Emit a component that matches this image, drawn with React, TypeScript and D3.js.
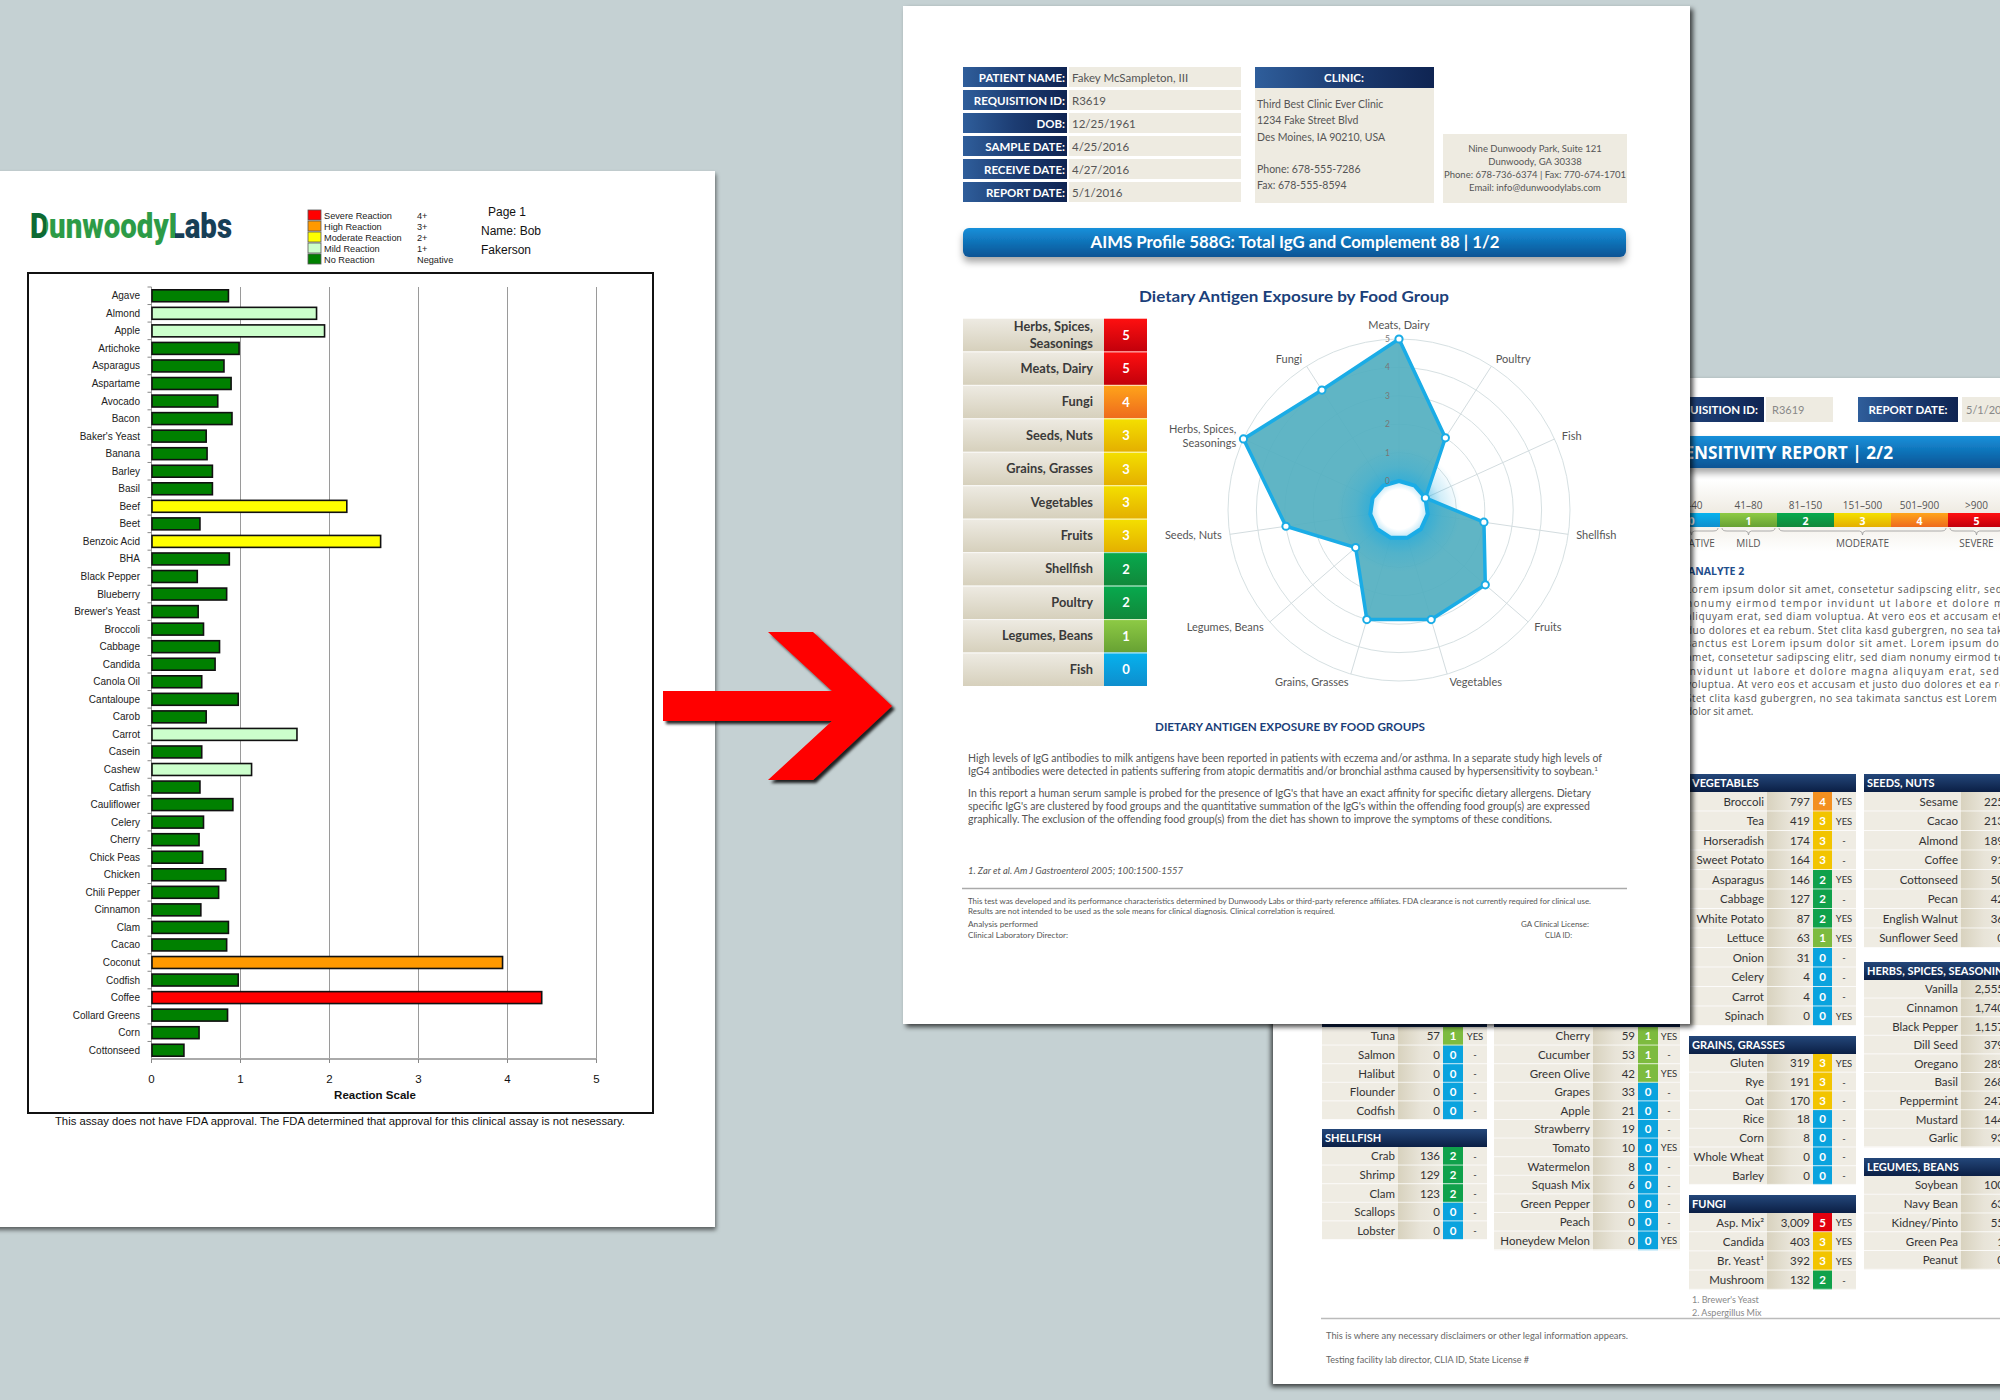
import React from 'react';
import * as d3 from 'd3';

// ---------------- data ----------------
const foods = ['Agave','Almond','Apple','Artichoke','Asparagus','Aspartame','Avocado','Bacon',"Baker's Yeast",'Banana','Barley','Basil','Beef','Beet','Benzoic Acid','BHA','Black Pepper','Blueberry',"Brewer's Yeast",'Broccoli','Cabbage','Candida','Canola Oil','Cantaloupe','Carob','Carrot','Casein','Cashew','Catfish','Cauliflower','Celery','Cherry','Chick Peas','Chicken','Chili Pepper','Cinnamon','Clam','Cacao','Coconut','Codfish','Coffee','Collard Greens','Corn','Cottonseed'];
const reactions = [0.87,1.86,1.95,0.99,0.82,0.90,0.75,0.91,0.62,0.63,0.69,0.69,2.20,0.55,2.58,0.88,0.52,0.85,0.53,0.59,0.77,0.72,0.57,0.98,0.62,1.64,0.57,1.13,0.55,0.92,0.59,0.54,0.58,0.84,0.76,0.56,0.87,0.85,3.95,0.98,4.39,0.86,0.54,0.37];
const reactionLabels = ['Severe Reaction','High Reaction','Moderate Reaction','Mild Reaction','No Reaction'];
const reactionCodes = ['4+','3+','2+','1+','Negative'];
const reactionColors = ['#FF0000','#FF9900','#FFFF00','#CCFFCC','#008000'];
const reactionTicks = [0,1,2,3,4,5];

const groupAxes = ['Meats, Dairy','Poultry','Fish','Shellfish','Fruits','Vegetables','Grains, Grasses','Legumes, Beans','Seeds, Nuts','Herbs, Spices,\nSeasonings','Fungi'];
const groupScores = [5,2,0,2,3,3,3,1,3,5,4];
const rankedGroups = ['Herbs, Spices,\nSeasonings','Meats, Dairy','Fungi','Seeds, Nuts','Grains, Grasses','Vegetables','Fruits','Shellfish','Poultry','Legumes, Beans','Fish'];
const radarTicks = [0,1,2,3,4,5];

const headerLabels = ['PATIENT NAME:','REQUISITION ID:','DOB:','SAMPLE DATE:','RECEIVE DATE:','REPORT DATE:'];
const headerValues = ['Fakey McSampleton, III','R3619','12/25/1961','4/25/2016','4/27/2016','5/1/2016'];
const clinicLines = ['Third Best Clinic Ever Clinic','1234 Fake Street Blvd','Des Moines, IA 90210, USA','','Phone: 678-555-7286','Fax: 678-555-8594'];
const labLines = ['Nine Dunwoody Park, Suite 121','Dunwoody, GA 30338','Phone: 678-736-6374 | Fax: 770-674-1701','Email: info@dunwoodylabs.com'];

const rangeLabels = ['0\u201340','41\u201380','81\u2013150','151\u2013500','501\u2013900','>900'];
const gradeLevels = [0,1,2,3,4,5];
const severityNames = ['NEGATIVE','MILD','MODERATE','SEVERE'];
const severitySpans = [[0,0],[1,1],[2,4],[5,5]];

const loremLines = [
  'Lorem ipsum dolor sit amet, consetetur sadipscing elitr, sed diam',
  'nonumy eirmod tempor invidunt ut labore et dolore magna',
  'aliquyam erat, sed diam voluptua. At vero eos et accusam et justo',
  'duo dolores et ea rebum. Stet clita kasd gubergren, no sea takimata',
  'sanctus est Lorem ipsum dolor sit amet. Lorem ipsum dolor sit',
  'amet, consetetur sadipscing elitr,  sed diam nonumy eirmod tempor',
  'invidunt ut labore et dolore magna aliquyam erat, sed diam',
  'voluptua. At vero eos et accusam et justo duo dolores et ea rebum.',
  'Stet clita kasd gubergren, no sea takimata sanctus est Lorem ipsum',
  'dolor sit amet.'
];

const fishFoods = ['Tuna','Salmon','Halibut','Flounder','Codfish'];
const fishValues = [57,0,0,0,0];
const fishGrades = [1,0,0,0,0];
const fishFlags = ['YES','-','-','-','-'];
const shellfishFoods = ['Crab','Shrimp','Clam','Scallops','Lobster'];
const shellfishValues = [136,129,123,0,0];
const shellfishGrades = [2,2,2,0,0];
const shellfishFlags = ['-','-','-','-','-'];
const fruitFoods = ['Cherry','Cucumber','Green Olive','Grapes','Apple','Strawberry','Tomato','Watermelon','Squash Mix','Green Pepper','Peach','Honeydew Melon'];
const fruitValues = [59,53,42,33,21,19,10,8,6,0,0,0];
const fruitGrades = [1,1,1,0,0,0,0,0,0,0,0,0];
const fruitFlags = ['YES','-','YES','-','-','-','YES','-','-','-','-','YES'];
const vegetableFoods = ['Broccoli','Tea','Horseradish','Sweet Potato','Asparagus','Cabbage','White Potato','Lettuce','Onion','Celery','Carrot','Spinach'];
const vegetableValues = [797,419,174,164,146,127,87,63,31,4,4,0];
const vegetableGrades = [4,3,3,3,2,2,2,1,0,0,0,0];
const vegetableFlags = ['YES','YES','-','-','YES','-','YES','YES','-','-','-','YES'];
const grainFoods = ['Gluten','Rye','Oat','Rice','Corn','Whole Wheat','Barley'];
const grainValues = [319,191,170,18,8,0,0];
const grainGrades = [3,3,3,0,0,0,0];
const grainFlags = ['YES','-','-','-','-','-','-'];
const fungiFoods = ['Asp. Mix\u00B2','Candida','Br. Yeast\u00B9','Mushroom'];
const fungiValues = [3009,403,392,132];
const fungiGrades = [5,3,3,2];
const fungiFlags = ['YES','YES','YES','-'];
const seedFoods = ['Sesame','Cacao','Almond','Coffee','Cottonseed','Pecan','English Walnut','Sunflower Seed'];
const seedValues = [225,213,189,91,50,42,36,0];
const herbFoods = ['Vanilla','Cinnamon','Black Pepper','Dill Seed','Oregano','Basil','Peppermint','Mustard','Garlic'];
const herbValues = [2555,1740,1157,379,289,268,247,144,93];
const legumeFoods = ['Soybean','Navy Bean','Kidney/Pinto','Green Pea','Peanut'];
const legumeValues = [100,63,55,1,0];

// ---------------- styles ----------------
const LATO = 'Lato, "Open Sans", sans-serif';
const OPEN = '"Open Sans", Lato, sans-serif';
const NARROW = '"Liberation Sans Narrow", "Liberation Sans", Arial, sans-serif';
const ARIAL = '"Liberation Sans", Arial, sans-serif';
const gradeTop = ['#06B2EE','#8ECB45','#07AA4E','#F4E000','#FFA51A','#FF1010'];
const gradeBot = ['#0E8ECD','#67A133','#11883A','#E4AF00','#EE6A1D','#C2000B'];
const gradeFlat = ['#0AA3DE','#7DBB3F','#10A14B','#F2C400','#F39020','#E2000F'];

function reactionColor(v: number) {
  if (v >= 4) return reactionColors[0];
  if (v >= 3) return reactionColors[1];
  if (v >= 2) return reactionColors[2];
  if (v >= 1) return reactionColors[3];
  return reactionColors[4];
}

const T = ({ x, y, children, size = 10, fill = '#333', anchor = 'start', weight = 'normal', family = LATO, w, italic = false, adjust = 'spacingAndGlyphs' }: any) => (
  <text x={x} y={y} fontSize={size} fill={fill} textAnchor={anchor} fontWeight={weight} fontFamily={family}
    fontStyle={italic ? 'italic' : 'normal'} textLength={w} lengthAdjust={w ? adjust : undefined}>{children}</text>
);

// ---------------- left page: bar chart ----------------
function LeftPage() {
  const x = d3.scaleLinear().domain([0, 5]).range([151.5, 596.5]);
  const y = d3.scaleBand().domain(foods).range([287, 1059]).paddingInner(0.32).paddingOuter(0.16);
  const bw = y.bandwidth();
  const gap = (y.step() - bw) / 2;
  return (
    <g>
      <rect x={-10} y={171} width={725} height={1056} fill="#fff" filter="url(#shadowPage)" />
      {/* logo */}
      <T x={30} y={238} size={35} weight={900} family="Roboto, Lato, sans-serif" fill="url(#logoFill)" w={202}>DunwoodyLabs</T>
      {/* legend */}
      {reactionLabels.map((l, i) => (
        <g key={l}>
          <rect x={308} y={210 + i * 11} width={13} height={10} fill={reactionColors[i]} stroke="#555" strokeWidth={0.8} />
          <T x={324} y={218.5 + i * 11} size={9.2} family={ARIAL} fill="#222">{l}</T>
          <T x={417} y={218.5 + i * 11} size={9.2} family={ARIAL} fill="#222">{reactionCodes[i]}</T>
        </g>
      ))}
      <T x={488} y={216} size={12} family={NARROW} fill="#111">Page  1</T>
      <T x={481} y={235} size={12} family={NARROW} fill="#111">Name:  Bob</T>
      <T x={481} y={254} size={12} family={NARROW} fill="#111">Fakerson</T>
      {/* frame */}
      <rect x={28} y={273} width={625} height={840} fill="none" stroke="#111" strokeWidth={2} />
      {/* gridlines */}
      {reactionTicks.filter(t => t > 0).map(t => (
        <line key={t} x1={x(t)} x2={x(t)} y1={287} y2={1059} stroke="#9a9a9a" strokeWidth={1} />
      ))}
      {/* left axis */}
      <line x1={x(0)} x2={x(0)} y1={287} y2={1059} stroke="#9a9a9a" strokeWidth={1} />
      {foods.map(f => (
        <line key={'t' + f} x1={147.5} x2={151.5} y1={(y(f) as number) - gap} y2={(y(f) as number) - gap} stroke="#888" strokeWidth={1} />
      ))}
      {/* bars */}
      {foods.map((f, i) => (
        <rect key={f} x={x(0) + 0.5} y={y(f)} width={x(reactions[i]) - x(0) - 1} height={bw}
          fill={reactionColor(reactions[i])} stroke="#111" strokeWidth={1.6} />
      ))}
      {foods.map(f => (
        <T key={'l' + f} x={140} y={(y(f) as number) + bw / 2 + 3.5} size={10} family={NARROW} fill="#222" anchor="end">{f}</T>
      ))}
      {/* bottom axis */}
      <line x1={x(0)} x2={x(5)} y1={1059} y2={1059} stroke="#aaa" strokeWidth={2} />
      {reactionTicks.map(t => (
        <g key={'x' + t}>
          <line x1={x(t)} x2={x(t)} y1={1059} y2={1063} stroke="#888" />
          <T x={x(t)} y={1083} size={11.5} family={NARROW} fill="#111" anchor="middle">{t}</T>
        </g>
      ))}
      <T x={375} y={1099} size={11.5} family={NARROW} weight="bold" fill="#111" anchor="middle">Reaction Scale</T>
      <T x={55} y={1125} size={11} family={NARROW} fill="#111" w={570}>This assay does not have FDA approval.  The FDA determined that approval for this clinical assay is not nesessary.</T>
    </g>
  );
}

// ---------------- back page tables ----------------
function FoodTable({ x0, top, title, names, values, grades, flags, pitch, nameW, valW = 45, gradeW = 20, yesW = 24, headerH = 18 }: any) {
  const width = nameW + valW + gradeW + yesW;
  const fmt = d3.format(',');
  const rows = d3.scaleBand().domain(names.map((_: any, i: number) => String(i))).range([top + headerH, top + headerH + pitch * names.length]);
  return (
    <g>
      <rect x={x0} y={top} width={width} height={headerH} fill="url(#navyV)" />
      <T x={x0 + 3} y={top + 13} size={11} weight="bold" fill="#fff">{title}</T>
      {names.map((n: string, i: number) => {
        const yy = rows(String(i)) as number;
        const cyy = yy + pitch / 2 + 4;
        return (
          <g key={n}>
            <rect x={x0} y={yy} width={nameW} height={pitch} fill="#EFECE3" />
            <rect x={x0 + nameW} y={yy} width={valW} height={pitch} fill="url(#valCell)" />
            {grades && <rect x={x0 + nameW + valW} y={yy} width={gradeW} height={pitch} fill={gradeFlat[grades[i]]} />}
            <rect x={x0 + nameW + valW + gradeW} y={yy} width={yesW} height={pitch} fill="#EFECE3" />
            <line x1={x0} x2={x0 + width} y1={yy + pitch - 0.5} y2={yy + pitch - 0.5} stroke="#fff" strokeOpacity={0.8} strokeWidth={1} />
            <T x={x0 + nameW - 3} y={cyy} size={11.5} fill="#333" anchor="end">{n}</T>
            <T x={x0 + nameW + valW - 3} y={cyy} size={11.5} fill="#333" anchor="end">{fmt(values[i])}</T>
            {grades && <T x={x0 + nameW + valW + gradeW / 2} y={cyy} size={11.5} weight="bold" fill="#fff" anchor="middle">{grades[i]}</T>}
            {flags && <T x={x0 + nameW + valW + gradeW + yesW / 2} y={cyy - 0.5} size={9.5} fill="#333" anchor="middle">{flags[i]}</T>}
          </g>
        );
      })}
    </g>
  );
}

function BackPage() {
  const seg = d3.scaleBand<number>().domain(gradeLevels).range([1663, 2005]);
  const sw = seg.bandwidth();
  return (
    <g>
      <rect x={1273} y={378} width={800} height={1006} fill="#fff" filter="url(#shadowBack)" />
      {/* header */}
      <rect x={1640} y={397} width={124} height={25} fill="url(#navyH)" />
      <T x={1758} y={414} size={11.5} weight="bold" fill="#fff" anchor="end">REQUISITION ID:</T>
      <rect x={1766} y={397} width={67} height={25} fill="#EEEBE1" />
      <T x={1772} y={414} size={11} fill="#888">R3619</T>
      <rect x={1858} y={397} width={100} height={25} fill="url(#navyH)" />
      <T x={1908} y={414} size={11.5} weight="bold" fill="#fff" anchor="middle">REPORT DATE:</T>
      <rect x={1962} y={397} width={60} height={25} fill="#EEEBE1" />
      <T x={1966} y={414} size={11} fill="#888">5/1/2016</T>
      {/* banner */}
      <rect x={1600} y={436} width={420} height={32} fill="url(#blueBanner)" filter="url(#shadowBanner)" />
      <T x={1893} y={459} size={18.5} weight="bold" fill="#fff" anchor="end" family={OPEN} w={218}>SENSITIVITY REPORT | 2/2</T>
      {/* scale */}
      <rect x={1600} y={480} width={420} height={72} fill="url(#scaleBand)" />
      {gradeLevels.map(g => (
        <g key={g}>
          <T x={(seg(g) as number) + sw / 2} y={509} size={10} fill="#555" anchor="middle" family={OPEN}>{rangeLabels[g]}</T>
          <rect x={seg(g)} y={513} width={sw} height={14} fill={`url(#g${g})`} />
          <T x={(seg(g) as number) + sw / 2} y={524.5} size={10.5} weight="bold" fill="#fff" anchor="middle" family={OPEN}>{g}</T>
        </g>
      ))}
      {severityNames.map((s, i) => {
        const a = (seg(severitySpans[i][0]) as number) + 2;
        const b = (seg(severitySpans[i][1]) as number) + sw - 2;
        const m = (a + b) / 2;
        return (
          <g key={s}>
            <path d={`M${a},528 Q${a},531 ${a + 5},531 L${m - 3},531 Q${m},531 ${m},535 Q${m},531 ${m + 3},531 L${b - 5},531 Q${b},531 ${b},528`} fill="none" stroke="#999" strokeWidth={0.8} />
            <T x={m} y={547} size={10} fill="#555" anchor="middle" family={OPEN}>{s}</T>
          </g>
        );
      })}
      <T x={1688} y={575} size={10.5} weight="bold" fill="#1F4E8C" family={OPEN}>ANALYTE 2</T>
      {loremLines.map((l, i) => (
        <T key={i} x={1686} y={593 + i * 13.6} size={10} fill="#555" family={OPEN}
          w={i < loremLines.length - 1 ? 345 : undefined} adjust="spacing">{l}</T>
      ))}
      {/* tables */}
      <FoodTable x0={1322} top={1009} title="FISH" names={fishFoods} values={fishValues} grades={fishGrades} flags={fishFlags} pitch={18.6} nameW={76} />
      <FoodTable x0={1322} top={1129} title="SHELLFISH" names={shellfishFoods} values={shellfishValues} grades={shellfishGrades} flags={shellfishFlags} pitch={18.6} nameW={76} />
      <FoodTable x0={1494} top={1009} title="FRUITS" names={fruitFoods} values={fruitValues} grades={fruitGrades} flags={fruitFlags} pitch={18.6} nameW={99} yesW={22} />
      <FoodTable x0={1689} top={774} title="VEGETABLES" names={vegetableFoods} values={vegetableValues} grades={vegetableGrades} flags={vegetableFlags} pitch={19.5} nameW={78} valW={46} gradeW={19} />
      <FoodTable x0={1689} top={1036} title="GRAINS, GRASSES" names={grainFoods} values={grainValues} grades={grainGrades} flags={grainFlags} pitch={18.7} nameW={78} valW={46} gradeW={19} />
      <FoodTable x0={1689} top={1195} title="FUNGI" names={fungiFoods} values={fungiValues} grades={fungiGrades} flags={fungiFlags} pitch={19.2} nameW={78} valW={46} gradeW={19} />
      <FoodTable x0={1864} top={774} title="SEEDS, NUTS" names={seedFoods} values={seedValues} pitch={19.5} nameW={97} valW={46} />
      <FoodTable x0={1864} top={962} title="HERBS, SPICES, SEASONINGS" names={herbFoods} values={herbValues} pitch={18.6} nameW={97} valW={46} />
      <FoodTable x0={1864} top={1158} title="LEGUMES, BEANS" names={legumeFoods} values={legumeValues} pitch={18.75} nameW={97} valW={46} />
      <T x={1692} y={1303} size={9} fill="#888">1. Brewer's Yeast</T>
      <T x={1692} y={1316} size={9} fill="#888">2. Aspergillus Mix</T>
      <line x1={1321} x2={2000} y1={1318.5} y2={1318.5} stroke="#bbb" strokeWidth={1.5} />
      <T x={1326} y={1339} size={9.5} fill="#666" w={302}>This is where any necessary disclaimers or other legal information appears.</T>
      <T x={1326} y={1363} size={9.5} fill="#666" w={203}>Testing facility lab director, CLIA ID, State License #</T>
    </g>
  );
}

// ---------------- front page ----------------
function Radar() {
  const cx = 1399, cy = 510;
  const n = groupAxes.length;
  const r = d3.scaleLinear().domain([0, 5]).range([29, 171]);
  const ang = (i: number) => (i * 2 * Math.PI) / n;
  const radial = d3.lineRadial<number>().angle((_, i) => ang(i)).radius(d => r(d)).curve(d3.curveLinearClosed);
  const outer = radial(groupScores) as string;
  const inner = radial(groupScores.map(() => 0)) as string;
  return (
    <g transform={`translate(${cx},${cy})`}>
      {radarTicks.filter(t => t > 0).map(t => (
        <circle key={t} r={r(t)} fill="none" stroke="#D6E0E2" strokeWidth={1} />
      ))}
      {groupAxes.map((a, i) => (
        <line key={a} x1={r(0) * Math.sin(ang(i))} y1={-r(0) * Math.cos(ang(i))} x2={r(5) * Math.sin(ang(i))} y2={-r(5) * Math.cos(ang(i))} stroke="#D3DCDF" strokeWidth={1} />
      ))}
      <path d={outer} fill="#52AFC0" fillOpacity={0.92} />
      <circle r={62} fill="url(#glow)" />
      <path d={outer} fill="none" stroke="#1AACE6" strokeWidth={3.5} strokeLinejoin="round" />
      <path d={inner} fill="url(#holeGrad)" stroke="#1AACE6" strokeWidth={4} strokeLinejoin="round" />
      {groupScores.map((v, i) => (
        <circle key={i} cx={r(v) * Math.sin(ang(i))} cy={-r(v) * Math.cos(ang(i))} r={3.6} fill="#fff" stroke="#1AACE6" strokeWidth={2} />
      ))}
      {radarTicks.map(t => (
        <T key={'tk' + t} x={-9} y={-r(t) + 3} size={8.5} fill="#777" anchor="end">{t}</T>
      ))}
      {groupAxes.map((a, i) => {
        const s = Math.sin(ang(i)), c = -Math.cos(ang(i));
        const lr = 179;
        const lx = lr * s, ly = lr * c;
        const anchor = Math.abs(s) < 0.1 ? 'middle' : s > 0 ? 'start' : 'end';
        const lines = a.split('\n');
        const base = i === 0 ? ly - 2 : ly + 4;
        return lines.map((l, k) => (
          <T key={a + k} x={lx} y={base + (k - (lines.length - 1) / 2) * 14} size={11} fill="#555" anchor={anchor}>{l}</T>
        ));
      })}
    </g>
  );
}

function FrontPage() {
  const rows = d3.scaleBand().domain(rankedGroups).range([318, 686]);
  const rh = rows.bandwidth();
  const scoreOf = (g: string) => groupScores[groupAxes.indexOf(g)];
  return (
    <g>
      <rect x={903} y={6} width={787} height={1018} fill="#fff" filter="url(#shadowFront)" />
      {/* header info */}
      {headerLabels.map((l, i) => (
        <g key={l}>
          <rect x={963} y={67 + i * 23} width={104} height={20} fill="url(#navyH)" />
          <T x={1065} y={81.5 + i * 23} size={11.5} weight="bold" fill="#fff" anchor="end">{l}</T>
          <rect x={1069} y={67 + i * 23} width={172} height={20} fill="#EEEBE1" />
          <T x={1072} y={81.5 + i * 23} size={11.5} fill="#555">{headerValues[i]}</T>
        </g>
      ))}
      <rect x={1255} y={67} width={179} height={21} fill="url(#navyH)" />
      <T x={1344} y={82} size={11.5} weight="bold" fill="#fff" anchor="middle">CLINIC:</T>
      <rect x={1255} y={88} width={179} height={115} fill="#EEEBE1" />
      {clinicLines.map((l, i) => (
        <T key={i} x={1257} y={108 + i * 16.25} size={10.5} fill="#555">{l}</T>
      ))}
      <rect x={1443} y={134} width={184} height={69} fill="#EEEBE1" />
      {labLines.map((l, i) => (
        <T key={i} x={1535} y={151.5 + i * 13.3} size={9.5} fill="#555" anchor="middle">{l}</T>
      ))}
      {/* banner */}
      <rect x={963} y={228} width={663} height={29} rx={6} fill="url(#blueBanner)" filter="url(#shadowBanner)" />
      <T x={1295} y={248} size={17} weight="bold" fill="#fff" anchor="middle" w={409}>AIMS Profile 588G: Total IgG and Complement 88 | 1/2</T>
      <T x={1294} y={302} size={16} weight="bold" fill="#1B3F7A" anchor="middle" w={310}>Dietary Antigen Exposure by Food Group</T>
      {/* ranked table */}
      {rankedGroups.map(g => {
        const yy = rows(g) as number;
        const s = scoreOf(g);
        const lines = g.split('\n');
        const mid = yy + rh / 2;
        return (
          <g key={g}>
            <rect x={963} y={yy} width={141} height={rh} fill="url(#cellBeige)" />
            <rect x={1104} y={yy} width={43} height={rh} fill={`url(#g${s})`} />
            <line x1={963} x2={1147} y1={yy + 0.5} y2={yy + 0.5} stroke="#fff" strokeOpacity={0.7} />
            {lines.map((l, k) => (
              <T key={k} x={1093} y={mid + 4.5 + (k - (lines.length - 1) / 2) * 17} size={12.8} weight="bold" fill="#3a3a3a" anchor="end">{l}</T>
            ))}
            <T x={1126} y={mid + 5} size={13} weight="bold" fill="#fff" anchor="middle">{s}</T>
          </g>
        );
      })}
      <Radar />
      {/* text */}
      <T x={1290} y={731} size={11} weight="bold" fill="#1B3F7A" anchor="middle" w={270}>DIETARY ANTIGEN EXPOSURE BY FOOD GROUPS</T>
      <T x={968} y={762} size={10.5} fill="#555" w={634}>High levels of IgG antibodies to milk antigens have been reported in patients with eczema and/or asthma. In a separate study high levels of</T>
      <text x={968} y={775} fontSize={10.5} fill="#555" fontFamily={LATO} textLength={630} lengthAdjust="spacingAndGlyphs">IgG4 antibodies were detected in patients suffering from atopic dermatitis and/or bronchial asthma caused by hypersensitivity to soybean.<tspan fontSize={6.5} dy={-4}>1</tspan></text>
      <T x={968} y={797} size={10.5} fill="#555" w={623}>In this report a human serum sample is probed for the presence of IgG's that have an exact affinity for specific dietary allergens.  Dietary</T>
      <T x={968} y={810} size={10.5} fill="#555" w={622}>specific IgG's are clustered by food groups and the quantitative summation of the IgG's within the offending food group(s) are expressed</T>
      <T x={968} y={823} size={10.5} fill="#555" w={584}>graphically.  The exclusion of the offending food group(s) from the diet has shown to improve the symptoms of these conditions.</T>
      <T x={968} y={874} size={9} fill="#555" w={215} italic>1. Zar et al. Am J Gastroenterol 2005; 100:1500-1557</T>
      <line x1={962} x2={1627} y1={888.5} y2={888.5} stroke="#aaa" strokeWidth={1.5} />
      <T x={968} y={903.5} size={7.5} fill="#555" w={623}>This test was developed and its performance characteristics determined by Dunwoody Labs or third-party reference affiliates. FDA clearance is not currently required for clinical use.</T>
      <T x={968} y={914} size={7.5} fill="#555" w={367}>Results are not intended to be used as the sole means for clinical diagnosis. Clinical correlation is required.</T>
      <T x={968} y={927} size={7.5} fill="#555" w={70}>Analysis performed</T>
      <T x={968} y={938} size={7.5} fill="#555" w={100}>Clinical Laboratory Director:</T>
      <T x={1589} y={927} size={7.5} fill="#555" anchor="end" w={68}>GA Clinical License:</T>
      <T x={1572} y={938} size={7.5} fill="#555" anchor="end" w={27}>CLIA ID:</T>
    </g>
  );
}

function Arrow() {
  const pts: [number, number][] = [[663, 691], [832, 691], [768, 632], [813, 632], [892, 706], [813, 780], [768, 780], [832, 721], [663, 721]];
  const line = d3.line().curve(d3.curveLinearClosed);
  return <path d={line(pts) as string} fill="#FF0000" filter="url(#shadowArrow)" />;
}

export default function App() {
  return (
    <svg width={2000} height={1400} viewBox="0 0 2000 1400" style={{ position: 'absolute', left: 0, top: 0, display: 'block' }}>
      <defs>
        <filter id="shadowPage" x="-5%" y="-5%" width="110%" height="110%">
          <feDropShadow dx={1} dy={3} stdDeviation={2} floodColor="#000" floodOpacity={0.55} />
        </filter>
        <filter id="shadowFront" x="-5%" y="-5%" width="110%" height="110%">
          <feDropShadow dx={3} dy={3} stdDeviation={2.5} floodColor="#000" floodOpacity={0.7} />
        </filter>
        <filter id="shadowBack" x="-5%" y="-5%" width="110%" height="110%">
          <feDropShadow dx={-2} dy={3} stdDeviation={2.5} floodColor="#000" floodOpacity={0.7} />
        </filter>
        <filter id="shadowBanner" x="-5%" y="-30%" width="110%" height="180%">
          <feDropShadow dx={0} dy={5} stdDeviation={3.5} floodColor="#000" floodOpacity={0.35} />
        </filter>
        <filter id="shadowArrow" x="-10%" y="-10%" width="130%" height="130%">
          <feDropShadow dx={3} dy={3} stdDeviation={1.8} floodColor="#000" floodOpacity={0.85} />
        </filter>
        <linearGradient id="logoFill" gradientUnits="userSpaceOnUse" x1={30} x2={232} y1={0} y2={0}>
          <stop offset="0" stopColor="#0D6A33" />
          <stop offset="0.079" stopColor="#0D6A33" />
          <stop offset="0.079" stopColor="#2C9B47" />
          <stop offset="0.718" stopColor="#2C9B47" />
          <stop offset="0.718" stopColor="#173F56" />
          <stop offset="1" stopColor="#173F56" />
        </linearGradient>
        <linearGradient id="navyH" x1="0" x2="1" y1="0" y2="0">
          <stop offset="0" stopColor="#2F5E9B" />
          <stop offset="0.5" stopColor="#1C3C72" />
          <stop offset="1" stopColor="#0F2452" />
        </linearGradient>
        <linearGradient id="navyV" x1="0" x2="0" y1="0" y2="1">
          <stop offset="0" stopColor="#24477A" />
          <stop offset="1" stopColor="#0B1F45" />
        </linearGradient>
        <linearGradient id="blueBanner" x1="0" x2="0" y1="0" y2="1">
          <stop offset="0" stopColor="#1690DA" />
          <stop offset="1" stopColor="#0A5394" />
        </linearGradient>
        <linearGradient id="cellBeige" x1="0" x2="0" y1="0" y2="1">
          <stop offset="0" stopColor="#EEEBE3" />
          <stop offset="1" stopColor="#D6D0BC" />
        </linearGradient>
        <linearGradient id="valCell" x1="0" x2="1" y1="0" y2="0">
          <stop offset="0" stopColor="#D8D2BE" />
          <stop offset="0.5" stopColor="#E8E4D8" />
          <stop offset="1" stopColor="#EEEBE2" />
        </linearGradient>
        <linearGradient id="scaleBand" x1="0" x2="0" y1="0" y2="1">
          <stop offset="0" stopColor="#FFFFFF" />
          <stop offset="0.45" stopColor="#EFEBE2" />
          <stop offset="1" stopColor="#FFFFFF" />
        </linearGradient>
        {gradeLevels.map(g => (
          <linearGradient key={g} id={`g${g}`} x1="0" x2="0" y1="0" y2="1">
            <stop offset="0" stopColor={gradeTop[g]} />
            <stop offset="1" stopColor={gradeBot[g]} />
          </linearGradient>
        ))}
        <radialGradient id="holeGrad" cx="0.5" cy="0.5" r="0.5">
          <stop offset="0" stopColor="#FFFFFF" />
          <stop offset="0.7" stopColor="#FFFFFF" />
          <stop offset="1" stopColor="#BFE6F6" />
        </radialGradient>
        <radialGradient id="glow" cx="0.5" cy="0.5" r="0.5">
          <stop offset="0" stopColor="#18A8E0" stopOpacity={0} />
          <stop offset="0.44" stopColor="#18A8E0" stopOpacity={0.6} />
          <stop offset="0.7" stopColor="#18A8E0" stopOpacity={0.2} />
          <stop offset="1" stopColor="#18A8E0" stopOpacity={0} />
        </radialGradient>
      </defs>
      <rect x={0} y={0} width={2000} height={1400} fill="#C5D1D3" />
      <LeftPage />
      <BackPage />
      <FrontPage />
      <Arrow />
    </svg>
  );
}
